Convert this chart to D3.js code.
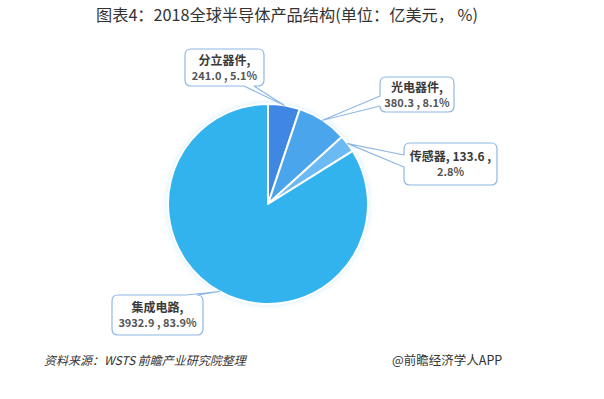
<!DOCTYPE html>
<html><head><meta charset="utf-8">
<script src="https://cdn.jsdelivr.net/npm/d3@7"></script>
<style>
html,body{margin:0;padding:0;background:#fff;}
svg{display:block;font-family:"Microsoft YaHei","Noto Sans CJK SC","Noto Sans",sans-serif;}
</style></head><body>
<svg id="c" width="604" height="399"></svg>
<script>
const categories = ["分立器件", "光电器件", "传感器", "集成电路"];
const values = [241.0, 380.3, 133.6, 3932.9];
const percents = [5.1, 8.1, 2.8, 83.9];
const colors = ["#3F87E2", "#4AA5EC", "#6CBAF3", "#32B3EE"];
const titleText = "图表4：2018全球半导体产品结构(单位：亿美元， %)";
const sourceText = "资料来源：WSTS 前瞻产业研究院整理";
const brandText = "@前瞻经济学人APP";

// callout box layout: [x, y, w, h], tail side, tail base range
const boxes = [
  {x:185, y:49, w:79, h:37, side:"bottom", a:244, b:254, split:1},
  {x:380, y:77, w:74, h:35, side:"left", a:96, b:106, split:1},
  {x:404, y:143, w:93, h:42, side:"left", a:155, b:167, split:2},
  {x:112, y:295, w:91, h:40, side:"top", a:186, b:198, split:1}
];

const svg = d3.select("#c");
const cx = 268, cy = 204, R = 100;

const defs = svg.append("defs");
const f = defs.append("filter").attr("id","glow").attr("x","-20%").attr("y","-20%").attr("width","140%").attr("height","140%");
f.append("feGaussianBlur").attr("in","SourceAlpha").attr("stdDeviation",3).attr("result","b");
f.append("feFlood").attr("flood-color","#9fd3f5").attr("flood-opacity",0.6);
f.append("feComposite").attr("in2","b").attr("operator","in").attr("result","s");
const m = f.append("feMerge"); m.append("feMergeNode").attr("in","s"); m.append("feMergeNode").attr("in","SourceGraphic");

svg.append("text").attr("x",287).attr("y",21).attr("text-anchor","middle")
  .attr("font-size",16.2).attr("fill","#333").text(titleText);

const data = categories.map((c,i)=>({name:c, value:values[i], pct:percents[i]}));
const pie = d3.pie().value(d=>d.value).sort(null);
const arcs = pie(data);
const arc = d3.arc().innerRadius(0).outerRadius(R);
const g = svg.append("g").attr("transform",`translate(${cx},${cy})`);
g.append("circle").attr("r",R).attr("fill","#32B3EE").attr("filter","url(#glow)");
g.selectAll("path").data(arcs).join("path")
  .attr("d",arc).attr("fill",(d,i)=>colors[i])
  .attr("stroke","#fff").attr("stroke-width",2).attr("stroke-linejoin","round");

function tipOf(d){
  const a = (d.startAngle + d.endAngle)/2;
  return [cx + R*Math.sin(a), cy - R*Math.cos(a)];
}

function calloutPath(b, tip){
  const r = 6, x0=b.x, y0=b.y, x1=b.x+b.w, y1=b.y+b.h;
  let p = `M${x0+r},${y0}`;
  if (b.side==="top") p += `L${b.a},${y0}L${tip[0]},${tip[1]}L${b.b},${y0}`;
  p += `L${x1-r},${y0}Q${x1},${y0} ${x1},${y0+r}`;
  p += `L${x1},${y1-r}Q${x1},${y1} ${x1-r},${y1}`;
  if (b.side==="bottom") p += `L${b.b},${y1}L${tip[0]},${tip[1]}L${b.a},${y1}`;
  p += `L${x0+r},${y1}Q${x0},${y1} ${x0},${y1-r}`;
  if (b.side==="left") p += `L${x0},${b.b}L${tip[0]},${tip[1]}L${x0},${b.a}`;
  p += `L${x0},${y0+r}Q${x0},${y0} ${x0+r},${y0}Z`;
  return p;
}

arcs.forEach((d,i)=>{
  const b = boxes[i];
  const tip = tipOf(d);
  svg.append("path").attr("d",calloutPath(b,tip)).attr("fill","#fff")
    .attr("stroke","#8EB8E6").attr("stroke-width",1.2).attr("stroke-linejoin","round");
  const v = d.data.value.toFixed(1), pc = d.data.pct.toFixed(1)+"%";
  let l1, l2;
  if (b.split===2){ l1 = d.data.name + ", " + v + " ,"; l2 = pc; }
  else { l1 = d.data.name + ","; l2 = v + " , " + pc; }
  const mx = b.x + b.w/2;
  const midY = b.y + b.h/2;
  svg.append("text").attr("x",mx).attr("y",midY-3).attr("text-anchor","middle")
    .attr("font-size",12).attr("font-weight","bold").attr("fill","#3a3a3a").text(l1);
  svg.append("text").attr("x",mx).attr("y",midY+12).attr("text-anchor","middle")
    .attr("font-size",11).attr("font-weight","bold").attr("fill","#555").text(l2);
});

svg.append("text").attr("x",44).attr("y",365).attr("font-size",12).attr("font-style","italic")
  .attr("fill","#333").text(sourceText);
svg.append("text").attr("x",392).attr("y",365).attr("font-size",12.5)
  .attr("fill","#333").text(brandText);
</script>
</body></html>
